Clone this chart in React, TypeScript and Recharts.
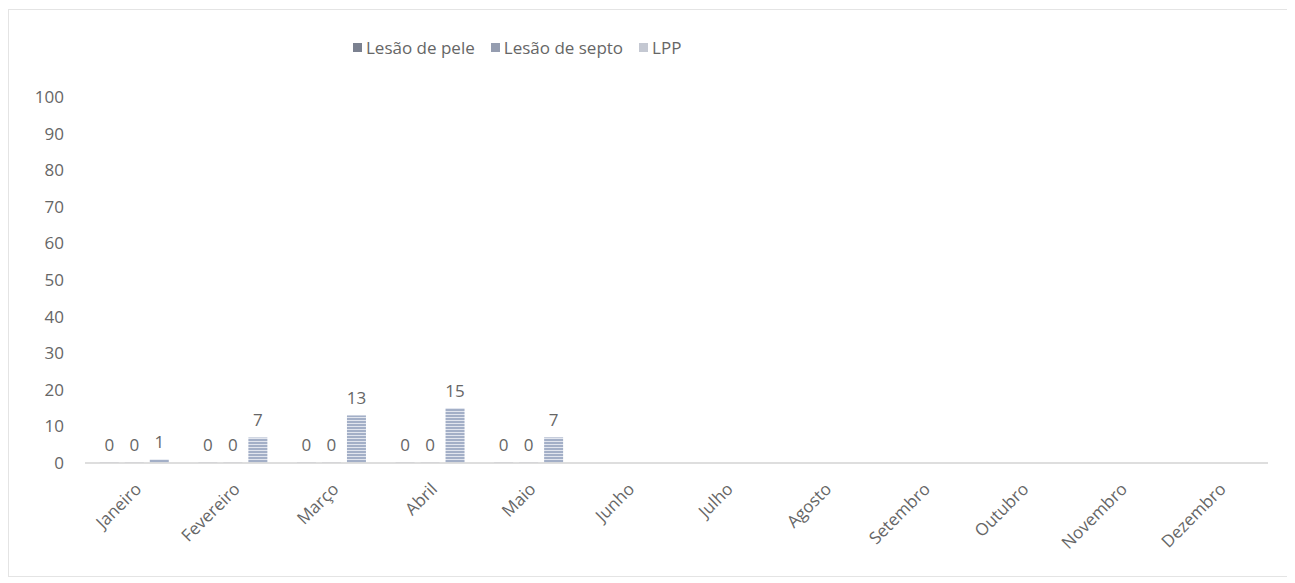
import { BarChart, Bar, XAxis, YAxis, Legend, LabelList } from 'recharts'

const meses = [
    'Janeiro', 'Fevereiro', 'Março', 'Abril', 'Maio', 'Junho',
    'Julho', 'Agosto', 'Setembro', 'Outubro', 'Novembro', 'Dezembro',
]
const lesaoPele: (number | null)[] = [0, 0, 0, 0, 0, null, null, null, null, null, null, null]
const lesaoSepto: (number | null)[] = [0, 0, 0, 0, 0, null, null, null, null, null, null, null]
const lpp: (number | null)[] = [1, 7, 13, 15, 7, null, null, null, null, null, null, null]
const yTicks = [0, 10, 20, 30, 40, 50, 60, 70, 80, 90, 100]

const series = [
    { key: 'pele', name: 'Lesão de pele', fill: 'url(#stripesPele)', swatch: '#7b8190' },
    { key: 'septo', name: 'Lesão de septo', fill: 'url(#stripesSepto)', swatch: '#959db0' },
    { key: 'lpp', name: 'LPP', fill: 'url(#stripesLpp)', swatch: '#c4c8d2' },
]

const data = meses.map((mes, i) => ({
    mes,
    pele: lesaoPele[i],
    septo: lesaoSepto[i],
    lpp: lpp[i],
}))

const FONT = '"Open Sans", Lato, sans-serif'
const TEXT = '#666666'

function MesTick({ x, y, payload }: any) {
    const tx = x + 5
    const ty = y + 16
    return (
        <text
            x={tx}
            y={ty}
            transform={`rotate(-45, ${tx}, ${ty})`}
            textAnchor="end"
            dominantBaseline="middle"
            fontSize={17}
            fill={TEXT}
            fontFamily={FONT}
        >
            {payload.value}
        </text>
    )
}

function LegendContent() {
    return (
        <div style={{ display: 'flex', alignItems: 'center', fontSize: 17, color: TEXT, fontFamily: FONT }}>
            {series.map((s) => (
                <span key={s.key} style={{ display: 'flex', alignItems: 'center', marginRight: 16 }}>
                    <span style={{ width: 9, height: 9, background: s.swatch, marginRight: 4, display: 'inline-block' }} />
                    {s.name}
                </span>
            ))}
        </div>
    )
}

export default function App() {
    return (
        <div
            style={{
                width: 1279,
                height: 566,
                border: '1px solid #e4e4e4',
                marginTop: 1,
                fontFamily: FONT,
                background: '#fff',
            }}
        >
            <BarChart
                width={1278}
                height={564}
                data={data}
                margin={{ top: 67, right: 19, left: 0, bottom: 21 }}
                barCategoryGap="15%"
                barGap={6}
            >
                <defs>
                    <pattern id="stripesLpp" width="4" height="3" patternUnits="userSpaceOnUse">
                        <rect width="4" height="3" fill="#a3afc7" />
                        <rect y="2" width="4" height="1" fill="#e1e5ee" />
                    </pattern>
                    <pattern id="stripesPele" width="4" height="3" patternUnits="userSpaceOnUse">
                        <rect width="4" height="3" fill="#9aa2b2" />
                        <rect y="2" width="4" height="1" fill="#d9dce3" />
                    </pattern>
                    <pattern id="stripesSepto" width="4" height="3" patternUnits="userSpaceOnUse">
                        <rect width="4" height="3" fill="#a7aebd" />
                        <rect y="2" width="4" height="1" fill="#dde0e7" />
                    </pattern>
                </defs>
                <XAxis
                    dataKey="mes"
                    interval={0}
                    height={90}
                    tick={<MesTick />}
                    tickLine={false}
                    axisLine={{ stroke: '#d3d3d3', strokeWidth: 1.5 }}
                />
                <YAxis
                    domain={[0, 100]}
                    ticks={yTicks}
                    width={76}
                    axisLine={false}
                    tickLine={false}
                    tickSize={0}
                    tickMargin={21}
                    tick={{ fontSize: 17, fill: TEXT, fontFamily: FONT }}
                />
                <Legend
                    verticalAlign="top"
                    align="left"
                    height={20}
                    content={<LegendContent />}
                    wrapperStyle={{ left: 344, top: 26, width: 'auto' }}
                />
                {series.map((s) => (
                    <Bar
                        key={s.key}
                        dataKey={s.key}
                        name={s.name}
                        fill={s.fill}
                        minPointSize={1}
                        isAnimationActive={false}
                    >
                        <LabelList dataKey={s.key} position="top" offset={11} fontSize={17} fill={TEXT} fontFamily={FONT} />
                    </Bar>
                ))}
            </BarChart>
        </div>
    )
}
